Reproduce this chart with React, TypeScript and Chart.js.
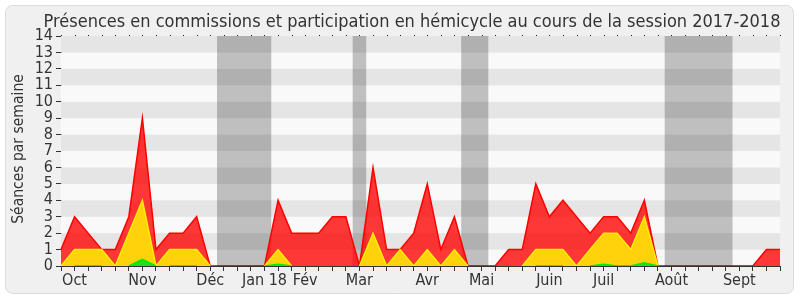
import React, { useEffect, useRef } from 'react';
import { Chart, registerables } from 'chart.js';

Chart.register(...registerables);

const TITLE = 'Présences en commissions et participation en hémicycle au cours de la session 2017-2018';
const Y_TITLE = 'Séances par semaine';

const WEEK_COUNT = 54;
const MONTH_INDEX = [1, 6, 11, 15, 18, 22, 27, 31, 36, 40, 45, 50];
const MONTH_LABELS = ['Oct', 'Nov', 'Déc', 'Jan 18', 'Fév', 'Mar', 'Avr', 'Mai', 'Juin', 'Juil', 'Août', 'Sept'];

const TOTAL = [1, 3, 2, 1, 1, 3, 9, 1, 2, 2, 3, 0, 0, 0, 0, 0, 4, 2, 2, 2, 3, 3, 0, 6, 1, 1, 2, 5, 1, 3, 0, 0, 0, 1, 1, 5, 3, 4, 3, 2, 3, 3, 2, 4, 0, 0, 0, 0, 0, 0, 0, 0, 1, 1];
const COMMISSION = [0, 1, 1, 1, 0, 2, 4, 0, 1, 1, 1, 0, 0, 0, 0, 0, 1, 0, 0, 0, 0, 0, 0, 2, 0, 1, 0, 1, 0, 1, 0, 0, 0, 0, 0, 1, 1, 1, 0, 1, 2, 2, 1, 3, 0, 0, 0, 0, 0, 0, 0, 0, 0, 0];
const HEMICYCLE = [0, 0, 0, 0, 0, 0, 0.4, 0, 0, 0, 0, 0, 0, 0, 0, 0, 0.1, 0, 0, 0, 0, 0, 0, 0, 0, 0, 0, 0, 0, 0, 0, 0, 0, 0, 0, 0, 0, 0, 0, 0, 0.1, 0, 0, 0.2, 0, 0, 0, 0, 0, 0, 0, 0, 0, 0];

const VACATION_START = [11.5, 21.5, 29.5, 44.5];
const VACATION_END = [15.5, 22.5, 31.5, 49.5];

const Y_MAX = 14;
const FONT = "'DejaVu Sans Condensed', 'DejaVu Sans', sans-serif";

const categories: string[] = Array.from({ length: WEEK_COUNT }, (_, i) => {
  const k = MONTH_INDEX.indexOf(i);
  return k >= 0 ? MONTH_LABELS[k] : '';
});

const decorPlugin = {
  id: 'decor',
  beforeDraw(chart: any) {
    const { ctx, width, height } = chart;
    ctx.save();
    ctx.fillStyle = '#ffffff';
    ctx.fillRect(0, 0, width, height);
    ctx.beginPath();
    (ctx as any).roundRect(5.5, 5.5, 788, 288, 7);
    ctx.fillStyle = '#f0f0f0';
    ctx.fill();
    ctx.strokeStyle = '#dcdcdc';
    ctx.lineWidth = 1;
    ctx.stroke();
    ctx.restore();
  },
  beforeDatasetsDraw(chart: any) {
    const { ctx, chartArea } = chart;
    const x = chart.scales.x;
    const y = chart.scales.y;
    ctx.save();
    for (let k = 0; k < Y_MAX; k++) {
      const yTop = y.getPixelForValue(k + 1);
      const yBot = y.getPixelForValue(k);
      ctx.fillStyle = k % 2 === 0 ? '#f9f9f9' : '#e5e5e5';
      ctx.fillRect(chartArea.left, yTop, chartArea.right - chartArea.left, yBot - yTop);
    }
    ctx.fillStyle = 'rgba(0,0,0,0.23)';
    for (let i = 0; i < VACATION_START.length; i++) {
      const x0 = x.getPixelForValue(VACATION_START[i]);
      const x1 = x.getPixelForValue(VACATION_END[i]);
      ctx.fillRect(x0, chartArea.top, x1 - x0, chartArea.bottom - chartArea.top);
    }
    ctx.fillStyle = '#222';
    for (let i = 0; i < WEEK_COUNT; i++) {
      const px = Math.round(x.getPixelForValue(i));
      ctx.fillRect(px, chartArea.top - 1, 1, 1);
    }
    ctx.restore();
  },
  afterDraw(chart: any) {
    const { ctx } = chart;
    ctx.save();
    ctx.fillStyle = '#333333';
    ctx.font = `18px ${FONT}`;
    ctx.textAlign = 'center';
    ctx.textBaseline = 'alphabetic';
    ctx.fillText(TITLE, 412, 27);
    ctx.translate(19, 149);
    ctx.rotate(-Math.PI / 2);
    ctx.font = `15.5px ${FONT}`;
    ctx.textBaseline = 'middle';
    ctx.fillText(Y_TITLE, 0, 0);
    ctx.restore();
  },
};

export default function App() {
  const ref = useRef<HTMLCanvasElement | null>(null);
  useEffect(() => {
    if (!ref.current) return;
    const chart = new Chart(ref.current, {
      type: 'line',
      data: {
        labels: categories,
        datasets: [
          {
            label: 'Hémicycle',
            data: HEMICYCLE,
            fill: 'origin',
            backgroundColor: '#22dd22',
            borderColor: '#00ee00',
            borderWidth: 1.5,
            pointRadius: 0,
            tension: 0,
            segment: {
              borderColor: (c: any) =>
                (COMMISSION[c.p0DataIndex] > 0 && COMMISSION[c.p1DataIndex] > 0) ||
                HEMICYCLE[c.p0DataIndex] > 0 || HEMICYCLE[c.p1DataIndex] > 0
                  ? '#00ee00'
                  : 'rgba(0,0,0,0)',
            },
            order: 1,
          },
          {
            label: 'Commission',
            data: COMMISSION,
            fill: 'origin',
            backgroundColor: '#ffd20c',
            borderColor: '#ffee00',
            borderWidth: 1.5,
            pointRadius: 0,
            tension: 0,
            segment: {
              borderColor: (c: any) =>
                COMMISSION[c.p0DataIndex] > 0 || COMMISSION[c.p1DataIndex] > 0 ? '#ffee00' : 'rgba(0,0,0,0)',
            },
            order: 2,
          },
          {
            label: 'Total',
            data: TOTAL,
            fill: 'origin',
            backgroundColor: 'rgba(255,0,0,0.78)',
            borderColor: '#ff0000',
            borderWidth: 1.5,
            pointRadius: 0,
            tension: 0,
            segment: {
              borderColor: (c: any) =>
                TOTAL[c.p0DataIndex] > 0 || TOTAL[c.p1DataIndex] > 0 ? '#ff0000' : 'rgba(60,20,10,0.9)',
            },
            order: 3,
          },
        ],
      },
      options: {
        animation: false,
        responsive: false,
        layout: { padding: { left: 0, right: 20, top: 36, bottom: 0 } },
        plugins: {
          legend: { display: false },
          title: { display: false },
          tooltip: { enabled: false },
        },
        scales: {
          x: {
            type: 'category',
            offset: false,
            grid: { display: true, drawOnChartArea: false, drawTicks: true, tickLength: 5, color: '#333' },
            border: { display: true, color: '#333', width: 1 },
            ticks: {
              autoSkip: false,
              maxRotation: 0,
              minRotation: 0,
              padding: 0,
              color: '#333',
              font: { family: FONT, size: 16 },
            },
            afterFit: (s: any) => { s.height = 34; },
          },
          y: {
            min: 0,
            max: Y_MAX,
            grid: { display: true, drawOnChartArea: false, drawTicks: true, tickLength: 5, color: '#333' },
            border: { display: true, color: '#333', width: 1 },
            ticks: {
              stepSize: 1,
              autoSkip: false,
              padding: 3,
              color: '#333',
              font: { family: FONT, size: 16 },
            },
            afterFit: (s: any) => { s.width = 61; },
          },
        },
      },
      plugins: [decorPlugin],
    });
    return () => chart.destroy();
  }, []);
  return (
    <div style={{ position: 'fixed', left: 0, top: 0, width: 800, height: 300 }}>
      <canvas ref={ref} width={800} height={300} style={{ display: 'block', width: 800, height: 300 }} />
    </div>
  );
}
